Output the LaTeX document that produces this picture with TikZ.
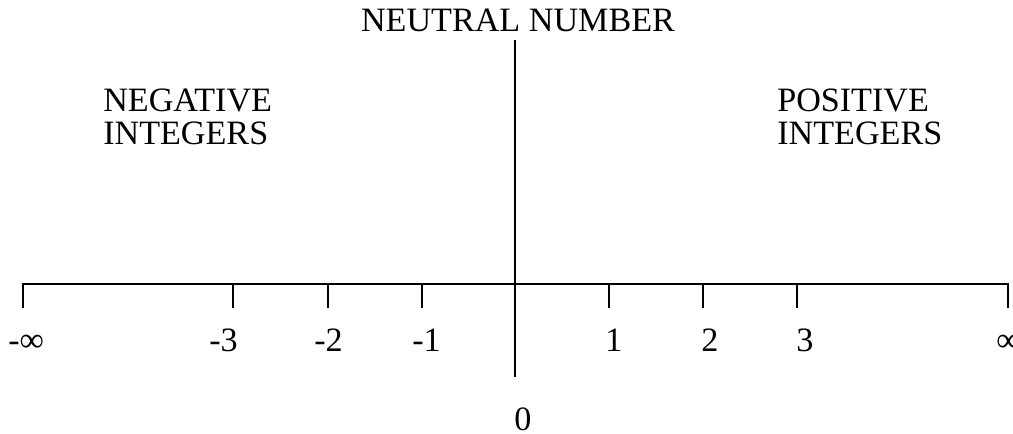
\documentclass[tikz,border=0pt]{standalone}
\usepackage{fontspec}
\setmainfont{Liberation Serif}
\begin{document}
\begin{tikzpicture}[
    x=0.75pt, y=-0.75pt,
    axis/.style={line width=1.5pt},
    lbl/.style={font=\fontsize{25.6}{24.75}\selectfont, inner sep=0pt, anchor=base west},
    head/.style={lbl, align=left},
]
\useasboundingbox (0,0) rectangle (1013,434);

% Number line with end ticks
\coordinate (lft bot) at (23,308);
\coordinate (lft top) at (23,284);
\coordinate (rgt top) at (1008,284);
\coordinate (rgt bot) at (1008,308);
\draw[axis] (lft bot) -- (lft top) -- (rgt top) -- (rgt bot);

% Inner ticks
\foreach \nm/\x in {m3/233, m2/328, m1/422, p1/609, p2/703, p3/797} {
  \coordinate (\nm top) at (\x,284);
  \coordinate (\nm bot) at (\x,308);
  \draw[axis] (\nm top) -- (\nm bot);
}

% Vertical line at zero
\coordinate (vtop) at (515,40);
\coordinate (vbot) at (515,377);
\draw[axis] (vtop) -- (vbot);

% Tick labels
\foreach \nm/\x/\t in {minf/8/-∞, m3/209/-3, m2/314/-2, m1/412/-1, p1/605/1, p2/701/2, p3/796/3, pinf/996/∞} {
  \node[lbl] (\nm lbl) at (\x,352) {\t};
}
\node[lbl, text depth=0pt] (zero) at (514,430) {0};

% Headings
\node[lbl, anchor=base] (neutral) at (518,32) {NEUTRAL NUMBER};
\node[head] (negtxt) at (103,145) {NEGATIVE\\INTEGERS};
\node[head] (postxt) at (777,145) {POSITIVE\\INTEGERS};
\end{tikzpicture}
\end{document}
